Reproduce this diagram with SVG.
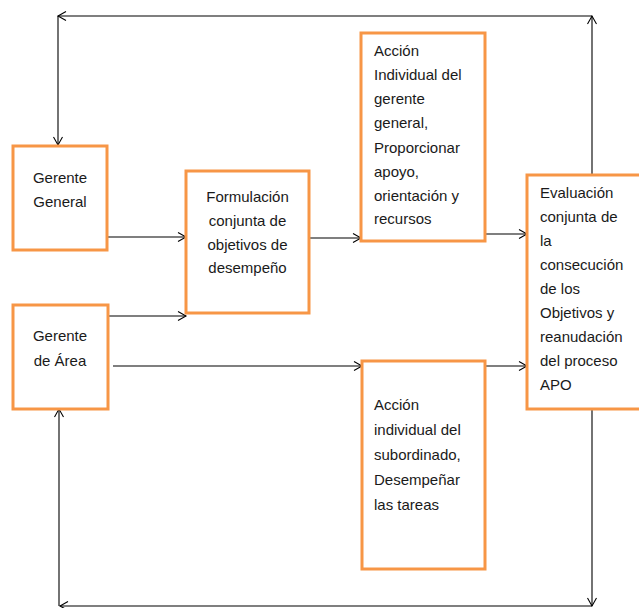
<svg xmlns="http://www.w3.org/2000/svg" width="639" height="608" viewBox="0 0 639 608">
<style>
.box{fill:#fff;stroke:#F79646;stroke-width:3}
.t{font-family:"Liberation Sans",Arial,sans-serif;font-size:15px;fill:#1a1a1a}
.c{text-anchor:middle}
.ln{fill:none;stroke:#000;stroke-width:1.1}
</style>
<defs>
<marker id="ah" markerUnits="userSpaceOnUse" markerWidth="12" markerHeight="12" refX="9" refY="5" orient="auto">
<path d="M1,0.5 L9,5 L1,9.5" fill="none" stroke="#000" stroke-width="1.1"/>
</marker>
</defs>
<g id="connectors">
<path class="ln" d="M592,175 V16" marker-end="url(#ah)"/>
<path class="ln" d="M592,16 H58" marker-end="url(#ah)"/>
<path class="ln" d="M58,16 V145" marker-end="url(#ah)"/>
<path class="ln" d="M107,237 H186" marker-end="url(#ah)"/>
<path class="ln" d="M108,316 H186" marker-end="url(#ah)"/>
<path class="ln" d="M309,238 H361" marker-end="url(#ah)"/>
<path class="ln" d="M485,234 H527" marker-end="url(#ah)"/>
<path class="ln" d="M113,366 H362" marker-end="url(#ah)"/>
<path class="ln" d="M485,366 H527" marker-end="url(#ah)"/>
<path class="ln" d="M592,409 V606" marker-end="url(#ah)"/>
<path class="ln" d="M592,606 H60" marker-end="url(#ah)"/>
<path class="ln" d="M59,606 V409" marker-end="url(#ah)"/>
</g>
<g id="gerente-general">
<rect class="box" x="13" y="146" width="94" height="104"/>
<text class="t c" x="60" y="183">Gerente</text>
<text class="t c" x="60" y="207">General</text>
</g>
<g id="gerente-area">
<rect class="box" x="13" y="305" width="95" height="104"/>
<text class="t c" x="60" y="341">Gerente</text>
<text class="t c" x="60" y="366">de Área</text>
</g>
<g id="formulacion">
<rect class="box" x="186" y="171" width="123" height="142"/>
<text class="t c" x="247.5" y="202">Formulación</text>
<text class="t c" x="247.5" y="226">conjunta de</text>
<text class="t c" x="247.5" y="250">objetivos de</text>
<text class="t c" x="247.5" y="273">desempeño</text>
</g>
<g id="accion-gerente">
<rect class="box" x="361" y="33" width="124" height="208"/>
<text class="t" x="374" y="56">Acción</text>
<text class="t" x="374" y="80">Individual del</text>
<text class="t" x="374" y="104">gerente</text>
<text class="t" x="374" y="128">general,</text>
<text class="t" x="374" y="153">Proporcionar</text>
<text class="t" x="374" y="177">apoyo,</text>
<text class="t" x="374" y="201">orientación y</text>
<text class="t" x="374" y="224">recursos</text>
</g>
<g id="accion-subordinado">
<rect class="box" x="362" y="361" width="123" height="208"/>
<text class="t" x="374" y="410">Acción</text>
<text class="t" x="374" y="435">individual del</text>
<text class="t" x="374" y="460">subordinado,</text>
<text class="t" x="374" y="485">Desempeñar</text>
<text class="t" x="374" y="510">las tareas</text>
</g>
<g id="evaluacion">
<rect class="box" x="527" y="175" width="116" height="234"/>
<text class="t" x="540" y="198">Evaluación</text>
<text class="t" x="540" y="222">conjunta de</text>
<text class="t" x="540" y="246">la</text>
<text class="t" x="540" y="270">consecución</text>
<text class="t" x="540" y="294">de los</text>
<text class="t" x="540" y="318">Objetivos y</text>
<text class="t" x="540" y="342">reanudación</text>
<text class="t" x="540" y="366">del proceso</text>
<text class="t" x="540" y="390">APO</text>
</g>
</svg>
